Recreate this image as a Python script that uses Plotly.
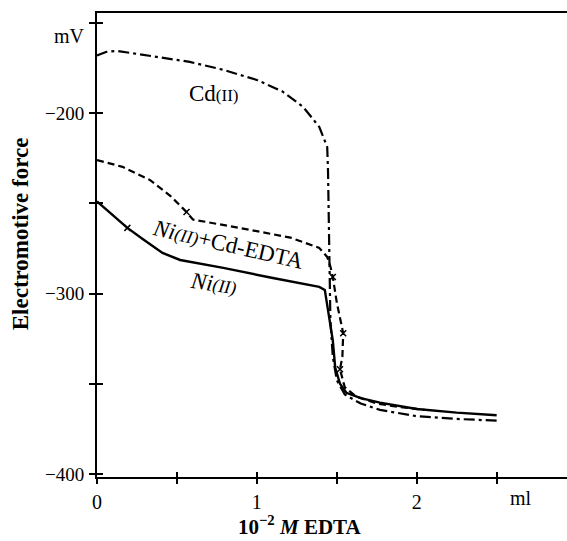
import plotly.graph_objects as go

# Cd(II) titration (dash-dot)
cd_x = [0.0, 0.06, 0.125, 0.375, 0.58, 0.79, 1.0, 1.16, 1.29, 1.39, 1.44, 1.445, 1.45, 1.455, 1.46, 1.475, 1.5, 1.55, 1.65, 1.77, 2.0, 2.25, 2.5]
cd_y = [-168, -166, -165.5, -168.8, -171.6, -176, -181.6, -188, -196.6, -207.6, -218.7, -231.5, -264.7, -290, -315, -335, -348, -356, -361, -364.5, -368, -369.5, -370.5]

# Ni(II) + Cd-EDTA (dashed)
mix_x = [0.0, 0.16, 0.33, 0.46, 0.56, 0.6, 0.89, 1.21, 1.39, 1.44, 1.46, 1.475, 1.5, 1.54, 1.535, 1.52, 1.55, 1.62, 1.75, 1.9, 2.05]
mix_y = [-226, -229.8, -237, -246, -254.8, -259, -263.6, -269, -274.7, -279.7, -285, -290.8, -305, -322, -335, -342, -352, -357, -361, -363, -364.5]
mix_cross_x = [0.56, 1.475, 1.54, 1.52]
mix_cross_y = [-254.8, -290.8, -322, -342]

# Ni(II) (solid)
ni_x = [0.0, 0.19, 0.29, 0.41, 0.52, 0.79, 1.1, 1.39, 1.425, 1.456, 1.475, 1.49, 1.52, 1.56, 1.65, 1.77, 2.0, 2.25, 2.5]
ni_y = [-249, -263.6, -270, -277.5, -281.4, -285.8, -291.4, -296.3, -298, -314.6, -326, -341, -350, -355, -358, -360.5, -364, -366, -367.5]
ni_cross_x = [0.19]
ni_cross_y = [-263.6]

x_ticks = [0, 1, 2]
x_ticklabels = ["0", "1", "2"]
x_minor = [0.5, 1.5, 2.5]
x_all = [0, 0.5, 1, 1.5, 2, 2.5]
y_ticks = [-200, -300, -400]
y_ticklabels = ["\u2212200", "\u2212300", "\u2212400"]
y_minor = [-150, -250, -350]
y_all = [-150, -200, -250, -300, -350, -400]
unit_label = "mV"
x_unit_label = "ml"

X_RANGE = [0, 2.94]
Y_RANGE = [-401.7, -144.5]
FONT = "Liberation Serif"

fig = go.Figure()
fig.add_trace(go.Scatter(x=cd_x, y=cd_y, mode="lines",
                         line=dict(color="black", width=2.2, dash="11px,4px,3px,4px"),
                         showlegend=False, hoverinfo="skip"))
fig.add_trace(go.Scatter(x=mix_x, y=mix_y, mode="lines",
                         line=dict(color="black", width=2.2, dash="7px,4px"),
                         showlegend=False, hoverinfo="skip"))
fig.add_trace(go.Scatter(x=ni_x, y=ni_y, mode="lines",
                         line=dict(color="black", width=2.4),
                         showlegend=False, hoverinfo="skip"))
fig.add_trace(go.Scatter(x=mix_cross_x + ni_cross_x, y=mix_cross_y + ni_cross_y, mode="markers",
                         marker=dict(symbol="x-thin", size=6, line=dict(color="black", width=1.5)),
                         showlegend=False, hoverinfo="skip"))
# invisible trace for overlay axes (inside ticks)
fig.add_trace(go.Scatter(x=[X_RANGE[0]], y=[Y_RANGE[0]], xaxis="x2", yaxis="y2", mode="markers",
                         marker=dict(opacity=0), showlegend=False, hoverinfo="skip"))

tick_style = dict(tickwidth=1.5, tickcolor="black")
fig.update_layout(
    width=567, height=541,
    margin=dict(l=97, r=0, t=13, b=64),
    plot_bgcolor="white", paper_bgcolor="white",
    font=dict(family=FONT, color="black", size=16),
    xaxis=dict(range=X_RANGE, tickvals=x_ticks, ticktext=x_ticklabels, ticks="outside",
               ticklen=5, **tick_style, showline=True, linecolor="black",
               linewidth=2, mirror=True, showgrid=False, zeroline=False,
               minor=dict(tickvals=x_minor, ticks="outside", ticklen=5, **tick_style, showgrid=False),
               tickfont=dict(size=20, family=FONT), ticklabelstandoff=1),
    yaxis=dict(range=Y_RANGE, tickvals=y_ticks, ticktext=y_ticklabels, ticks="outside",
               ticklen=6, **tick_style, showline=True, linecolor="black",
               linewidth=2, showgrid=False, zeroline=False,
               minor=dict(tickvals=y_minor, ticks="outside", ticklen=6, **tick_style, showgrid=False),
               tickfont=dict(size=19, family=FONT), ticklabelstandoff=1),
    xaxis2=dict(range=X_RANGE, overlaying="x", tickvals=x_all, showticklabels=False,
                ticks="inside", ticklen=5, **tick_style,
                showgrid=False, zeroline=False, showline=False, side="bottom"),
    yaxis2=dict(range=Y_RANGE, overlaying="y", tickvals=y_all, showticklabels=False,
                ticks="inside", ticklen=6, **tick_style,
                showgrid=False, zeroline=False, showline=False, side="left"),
    annotations=[
        dict(text=unit_label, xref="paper", yref="y", x=0, xshift=-10, y=-157,
             showarrow=False, font=dict(size=20, family=FONT), xanchor="right", yanchor="middle"),
        dict(text="<b>Electromotive force</b>", xref="paper", yref="paper",
             x=-0.162, y=0.525, textangle=-90, showarrow=False,
             font=dict(size=23, family=FONT), xanchor="center", yanchor="middle"),
        dict(text="<b>10<sup>\u22122</sup> <i>M</i> EDTA</b>", xref="x", yref="paper",
             x=1.27, y=-0.105, showarrow=False, font=dict(size=21, family=FONT),
             xanchor="center", yanchor="middle"),
        dict(text=x_unit_label, xref="x", yref="paper", x=2.65, y=-0.045, showarrow=False,
             font=dict(size=20, family=FONT), xanchor="center", yanchor="middle"),
        dict(text="Cd<span style='font-size:17px'>(II)</span>", xref="x", yref="y",
             x=0.73, y=-189, showarrow=False, font=dict(size=23, family=FONT)),
        dict(text="<i>Ni</i><span style='font-size:18px'><i>(II)</i></span>+Cd-EDTA", xref="x", yref="y",
             x=0.82, y=-273, textangle=13, showarrow=False, font=dict(size=23, family=FONT)),
        dict(text="<i>Ni</i><span style='font-size:18px'><i>(II)</i></span>", xref="x", yref="y",
             x=0.73, y=-294.5, textangle=8, showarrow=False, font=dict(size=23, family=FONT)),
    ],
)

fig.write_html("out.html")
